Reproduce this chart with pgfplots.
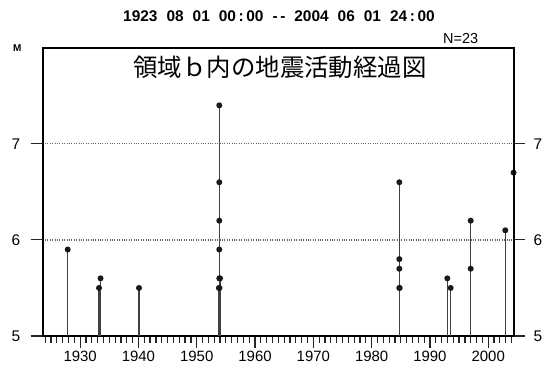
\documentclass[border=0pt]{standalone}
\usepackage{pgfplots}
\pgfplotsset{compat=1.18}
\usepackage{fontspec}
\setmainfont{Liberation Sans}
\newfontfamily\jp{Noto Sans CJK JP}
\begin{document}
\begin{tikzpicture}
\path[use as bounding box] (-42.7bp,-31bp) rectangle (502.3bp,336bp);
\begin{axis}[
  scale only axis, width=471.3bp, height=288.3bp,
  xmin=1923.58, xmax=2004.42, ymin=5, ymax=8,
  xtick={1930,1940,...,2000}, minor xtick={1924,1925,...,2004},
  ytick={5,6,7},
  xtick pos=bottom, ytick pos=left,
  tick align=outside,
  major tick length=12bp, minor tick length=7bp,
  tick style={black!85, line width=1.2bp},
  axis line style={line width=2bp},
  ymajorgrids, grid style={dotted, line width=1.3bp, black!60},
  x tick label style={/pgf/number format/1000 sep={}, font=\fontsize{15}{16}\selectfont, yshift=-1.5bp, inner sep=1bp},
  y tick label style={font=\fontsize{15.5}{17}\selectfont, xshift=-7bp},
  /pgf/number format/assume math mode=true,
  clip=true,
]
\addplot[ycomb, black!75, line width=1.5bp, mark=*, mark size=2.2bp, mark options={fill=black!90, draw=black!90}] table {
x y
1927.87 5.9
1933.24 5.5
1933.50 5.6
1940.10 5.5
1953.87 7.4
1953.87 6.6
1953.87 6.2
1953.87 5.9
1954.00 5.6
1953.87 5.6
1953.80 5.5
1953.90 5.5
1984.75 6.6
1984.75 5.8
1984.75 5.7
1984.75 5.5
1984.80 5.5
1992.98 5.6
1993.56 5.5
1996.99 6.2
1996.99 5.7
2002.93 6.1
2004.35 6.7
};
\end{axis}
\begin{axis}[
  scale only axis, width=471.3bp, height=288.3bp,
  xmin=1923.58, xmax=2004.42, ymin=5, ymax=8,
  axis x line=none, axis y line*=right,
  ytick={5,6,7},
  tick align=outside, major tick length=11bp,
  tick style={black!85, line width=1.2bp},
  axis line style={line width=2bp},
  y tick label style={font=\fontsize{15.5}{17}\selectfont, xshift=5bp},
  /pgf/number format/assume math mode=true,
]
\addplot[draw=none] coordinates {(1930,5)};
\end{axis}
\node[font=\bfseries\fontsize{15.5}{17}\selectfont] at (236.3bp,320bp)
  {1923\hspace{9bp}08\hspace{9bp}01\hspace{9bp}00\,:\,00\hspace{9bp}-\,-\hspace{9bp}2004\hspace{9bp}06\hspace{9bp}01\hspace{9bp}24\,:\,00};
\node[font=\fontsize{14.5}{16}\selectfont] at (418bp,297bp) {N=23};
\node[font=\bfseries\fontsize{10}{12}\selectfont] at (-25.4bp,288bp) {M};
\node[font=\jp\fontsize{24.5}{27}\selectfont] at (237.3bp,269bp) {領域ｂ内の地震活動経過図};
\end{tikzpicture}
\end{document}
